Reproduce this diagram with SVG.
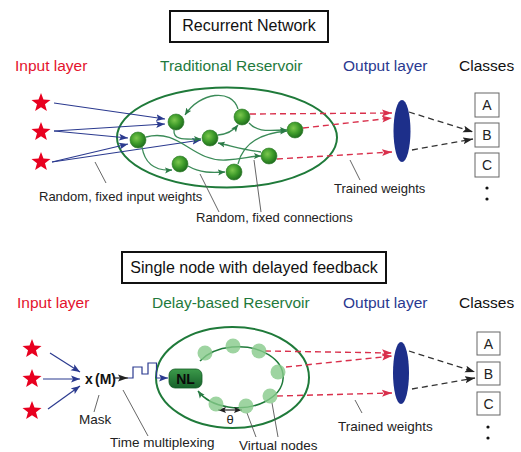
<svg xmlns="http://www.w3.org/2000/svg" width="521" height="452" viewBox="0 0 521 452">
<style>
text{font-family:"Liberation Sans",Arial,sans-serif}
.h{font-size:15.5px}
.red{fill:#e4132d}
.grn{fill:#1f7a3d}
.blu{fill:#2a3990}
.blk{fill:#111}
.lab{font-size:13px;fill:#222}
.lab2{font-size:13.5px;fill:#222}
.title{font-size:16px;fill:#111;text-anchor:middle}
.tbox{fill:#fff;stroke:#111;stroke-width:2}
.cbox{fill:#fff;stroke:#666;stroke-width:1}
.ctext{font-size:14px;fill:#222;text-anchor:middle}
.inw{fill:none;stroke:#2b3a8f;stroke-width:1.2;marker-end:url(#ab)}
.gc{fill:none;stroke:#3b8b58;stroke-width:1.3;marker-end:url(#ag)}
.rd{fill:none;stroke:#d9304c;stroke-width:1.4;stroke-dasharray:6 4;marker-end:url(#ar)}
.kd{fill:none;stroke:#333;stroke-width:1.3;stroke-dasharray:6 4;marker-end:url(#ak)}
.ptr{fill:none;stroke:#555;stroke-width:0.9}
.res{fill:none;stroke:#1f7a3a;stroke-width:2}
.node{fill:url(#ng);stroke:#2d7a2a;stroke-width:0.6}
.vn{fill:#86c98a;fill-opacity:0.8}
.star{fill:#e8001f}
.outl{fill:#1d2f8a}
.th{fill:none;stroke:#222;stroke-width:1.2;marker-end:url(#ak3)}
</style>
<defs>
<radialGradient id="ng" cx="40%" cy="38%" r="65%">
<stop offset="0" stop-color="#7cc84e"/>
<stop offset="0.55" stop-color="#3d9a2a"/>
<stop offset="1" stop-color="#1d6a1d"/>
</radialGradient>
<linearGradient id="nlg" x1="0" y1="0" x2="0" y2="1">
<stop offset="0" stop-color="#3c9a4a"/>
<stop offset="1" stop-color="#16602a"/>
</linearGradient>
<marker id="ab" markerUnits="userSpaceOnUse" markerWidth="10" markerHeight="8" refX="9" refY="4" orient="auto"><path d="M0,0.5 L9,4 L0,7.5 L2,4 z" fill="#2b3a8f"/></marker>
<marker id="ag" markerUnits="userSpaceOnUse" markerWidth="8" markerHeight="7" refX="7" refY="3.5" orient="auto"><path d="M0,0.5 L7,3.5 L0,6.5 L1.5,3.5 z" fill="#2a7a45"/></marker>
<marker id="ar" markerUnits="userSpaceOnUse" markerWidth="11" markerHeight="8" refX="10" refY="4" orient="auto"><path d="M0,0.5 L10,4 L0,7.5 L2,4 z" fill="#d9304c"/></marker>
<marker id="ak" markerUnits="userSpaceOnUse" markerWidth="11" markerHeight="8" refX="10" refY="4" orient="auto"><path d="M0,0.5 L10,4 L0,7.5 L2,4 z" fill="#222"/></marker>
<marker id="ak3" markerUnits="userSpaceOnUse" markerWidth="9" markerHeight="7" refX="8" refY="3.5" orient="auto"><path d="M0,0.5 L8,3.5 L0,6.5 L1.5,3.5 z" fill="#222"/></marker>
<polygon id="st" points="0,-10 2.47,-3.4 9.51,-3.09 3.99,1.3 5.88,8.09 0,4.2 -5.88,8.09 -3.99,1.3 -9.51,-3.09 -2.47,-3.4"/>
</defs>

<!-- ===== TOP PANEL ===== -->
<g id="title-top">
<rect class="tbox" x="170" y="11" width="158" height="31"/>
<text class="title" x="249" y="31">Recurrent Network</text>
</g>
<g id="headers-top">
<text class="h red" x="15" y="71">Input layer</text>
<text class="h grn" x="160" y="71">Traditional Reservoir</text>
<text class="h blu" x="343" y="71">Output layer</text>
<text class="h blk" x="459" y="71">Classes</text>
</g>
<g id="inputs-top">
<use href="#st" class="star" x="41" y="103"/>
<use href="#st" class="star" x="41" y="132"/>
<use href="#st" class="star" x="41" y="162"/>
</g>
<g id="reservoir-top">
<ellipse class="res" cx="227" cy="137.5" rx="110" ry="50"/>
</g>
<g id="connectors-top">
<path class="inw" d="M54,103 L165,119"/>
<path class="inw" d="M54,131 L165,124"/>
<path class="inw" d="M54,131 L128,138"/>
<path class="inw" d="M52,162 L128,144"/>
<path class="inw" d="M52,162 L201,140"/>
<path class="gc" d="M238,109 C232,88 200,92 185,115"/>
<path class="gc" d="M174,130 C173,141 186,139 201,139"/>
<path class="gc" d="M218,135 C228,134 234,130 238,125"/>
<path class="gc" d="M249,123 C258,133 270,130 287,130"/>
<path class="gc" d="M261,152 C245,150 232,146 218,143"/>
<path class="gc" d="M146,137 C180,128 192,162 226,160 C244,159 250,156 261,156"/>
<path class="gc" d="M142,147 C145,165 156,171 172,170"/>
<path class="gc" d="M188,166 C200,173 212,173 225,172"/>
<path class="gc" d="M238,164 C243,143 262,133 287,131"/>
<path class="rd" d="M250,114 L392,113"/>
<path class="rd" d="M303,128 L392,118"/>
<path class="rd" d="M277,159 L392,152"/>
<path class="kd" d="M409,112 L473,132"/>
<path class="kd" d="M412,150 L473,139"/>
<path class="ptr" d="M95,162 L106,183"/>
<path class="ptr" d="M200,174 L219,212"/>
<path class="ptr" d="M254,160 L261,212"/>
<path class="ptr" d="M350,160 L360,180"/>
</g>
<g id="nodes-top">
<circle class="node" cx="176" cy="122" r="8"/>
<circle class="node" cx="242" cy="117" r="8"/>
<circle class="node" cx="210" cy="138" r="8"/>
<circle class="node" cx="295" cy="130" r="8"/>
<circle class="node" cx="269" cy="156" r="8"/>
<circle class="node" cx="180" cy="164" r="8"/>
<circle class="node" cx="234" cy="172" r="8"/>
<circle class="node" cx="138" cy="140" r="8"/>
</g>
<g id="output-top">
<ellipse class="outl" cx="402" cy="131" rx="8.5" ry="31"/>
</g>
<g id="classes-top">
<rect class="cbox" x="475" y="93" width="24" height="24"/>
<text class="ctext" x="487" y="110">A</text>
<rect class="cbox" x="475" y="123" width="24" height="24"/>
<text class="ctext" x="487" y="140">B</text>
<rect class="cbox" x="475" y="153" width="24" height="24"/>
<text class="ctext" x="487" y="170">C</text>
<circle cx="487" cy="188" r="1.6" fill="#111"/>
<circle cx="487" cy="199" r="1.6" fill="#111"/>
</g>
<g id="labels-top">
<text class="lab" x="39" y="201">Random, fixed input weights</text>
<text class="lab" x="196" y="222">Random, fixed connections</text>
<text class="lab" x="334" y="193">Trained weights</text>
</g>

<!-- ===== BOTTOM PANEL ===== -->
<g id="title-bottom">
<rect class="tbox" x="122" y="252" width="264" height="31"/>
<text class="title" x="254" y="273">Single node with delayed feedback</text>
</g>
<g id="headers-bottom">
<text class="h red" x="17" y="308">Input layer</text>
<text class="h grn" x="152" y="308">Delay-based Reservoir</text>
<text class="h blu" x="343" y="308">Output layer</text>
<text class="h blk" x="459" y="308">Classes</text>
</g>
<g id="inputs-bottom">
<use href="#st" class="star" x="32" y="349"/>
<use href="#st" class="star" x="32" y="379"/>
<use href="#st" class="star" x="32" y="411"/>
</g>
<g id="mask">
<text x="85" y="384" font-size="14" font-weight="bold" fill="#111">x</text>
<text x="95" y="384" font-size="14" font-weight="bold" fill="#111">(M)</text>
</g>
<g id="reservoir-bottom">
<ellipse class="res" cx="232.5" cy="377.5" rx="76.5" ry="50.5"/>
</g>
<g id="connectors-bottom">
<path class="inw" d="M50,353 L80,372"/>
<path class="inw" d="M43,379 L80,379"/>
<path class="inw" d="M48,409 L80,386"/>
<path d="M113,378 L128,378" fill="none" stroke="#222" stroke-width="1.2" marker-end="url(#ak)"/>
<path d="M128,378 H133 V367 H142 V374 H148 V363 H156.5 V378 H168" fill="none" stroke="#2b3a8f" stroke-width="1.2" marker-end="url(#ab)"/>
<path d="M200,361 A45,30.5 0 1 1 198,391" fill="none" stroke="#1f7a3a" stroke-width="1.5" marker-end="url(#ag)"/>
<path class="th" d="M230,410 L218,410"/>
<path class="th" d="M230,410 L242,410"/>
<path class="rd" d="M265,351 L392,353"/>
<path class="rd" d="M286,367 L392,356"/>
<path class="rd" d="M277,396 L392,393"/>
<path class="kd" d="M409,351 L475,372"/>
<path class="kd" d="M412,389 L475,378"/>
<path class="ptr" d="M99,395 L94,412"/>
<path class="ptr" d="M123,390 L148,436"/>
<path class="ptr" d="M247,413 L256,437"/>
<path class="ptr" d="M272,403 L278,437"/>
<path class="ptr" d="M355,400 L362,413"/>
</g>
<g id="nl-node">
<rect x="169" y="369" width="33" height="19" rx="6" fill="url(#nlg)" stroke="#135a25" stroke-width="0.8"/>
<text x="185.5" y="384" font-size="14" font-weight="bold" fill="#0a0a0a" text-anchor="middle">NL</text>
</g>
<g id="virtual-nodes">
<circle class="vn" cx="205" cy="353" r="7.5"/>
<circle class="vn" cx="233" cy="346" r="7.5"/>
<circle class="vn" cx="259" cy="351" r="7.5"/>
<circle class="vn" cx="278" cy="372" r="7.5"/>
<circle class="vn" cx="270" cy="396" r="7.5"/>
<circle class="vn" cx="246" cy="406" r="7.5"/>
<circle class="vn" cx="216" cy="404" r="7.5"/>
</g>
<g id="output-bottom">
<ellipse class="outl" cx="401" cy="373" rx="8" ry="31"/>
</g>
<g id="classes-bottom">
<rect class="cbox" x="477" y="332" width="23" height="23"/>
<text class="ctext" x="488.5" y="349">A</text>
<rect class="cbox" x="477" y="362" width="23" height="23"/>
<text class="ctext" x="488.5" y="379">B</text>
<rect class="cbox" x="477" y="392" width="23" height="23"/>
<text class="ctext" x="488.5" y="409">C</text>
<circle cx="488" cy="427" r="1.6" fill="#111"/>
<circle cx="488" cy="438" r="1.6" fill="#111"/>
</g>
<g id="labels-bottom">
<text x="230" y="424" font-family="Liberation Serif,serif" font-size="13" fill="#222" text-anchor="middle">θ</text>
<text class="lab2" x="79" y="424">Mask</text>
<text class="lab2" x="110" y="447">Time multiplexing</text>
<text class="lab2" x="239" y="450">Virtual nodes</text>
<text class="lab2" x="338" y="431">Trained weights</text>
</g>
</svg>
